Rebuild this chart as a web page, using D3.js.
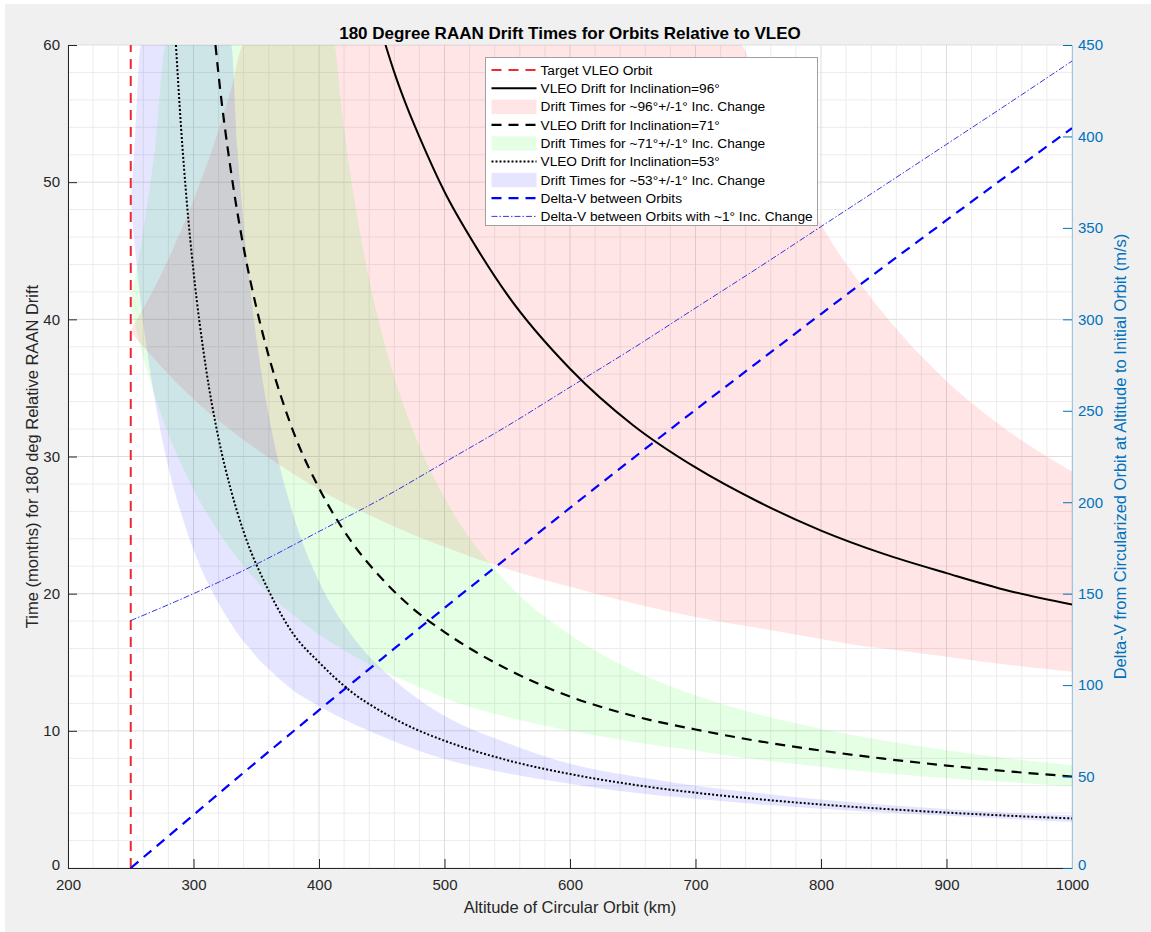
<!DOCTYPE html>
<meta charset="utf-8">
<script src="https://d3js.org/d3.v7.min.js"></script>
<style>
  body { margin: 0; background: #fff; font-family: "Liberation Sans", Arial, Helvetica, sans-serif; }
</style>
<div id="my_dataviz"></div>
<script>

// ---- values ----
// nominal drift curves: altitude (km) / months for 180 deg relative drift
var alt96 = [453, 460, 470, 480, 500, 525, 550, 600, 650, 700, 750, 800, 850, 900, 950, 1000];
var drift96 = [60, 58.0, 55.5, 53.3, 49.3, 45.3, 41.8, 36.4, 32.3, 29.2, 26.7, 24.6, 22.9, 21.5, 20.2, 19.2];

var alt71 = [317.5, 320, 330, 340, 350, 360, 370, 380, 400, 425, 450, 475, 500, 550, 600, 650, 700, 750, 800, 850, 900, 950, 1000];
var drift71 = [60, 57.8, 50.7, 45.2, 40.9, 37.3, 34.3, 31.7, 27.7, 23.9, 21.1, 18.9, 17.2, 14.5, 12.5, 11.1, 10.1, 9.25, 8.56, 7.97, 7.47, 7.04, 6.67];

var alt53 = [286, 290, 295, 300, 310, 320, 330, 340, 360, 380, 400, 425, 450, 475, 500, 550, 600, 650, 700, 750, 800, 850, 900, 950, 1000];
var drift53 = [60, 54.1, 48.2, 43.5, 36.4, 31.3, 27.5, 24.5, 20.2, 17.0, 15.0, 12.9, 11.4, 10.2, 9.28, 7.86, 6.85, 6.08, 5.49, 5.02, 4.63, 4.31, 4.04, 3.81, 3.61];

// +/-1 deg inclination bands (upper edge held at the top of the axes where it runs off)
var band96Alt = [250, 260, 270, 280, 300, 320, 330, 340, 360, 380, 400, 450, 500, 550, 600, 650, 700, 736, 750, 775, 800, 825, 850, 900, 950, 1000];
var band96Hi = [39.2, 40.8, 42.5, 44.4, 48.7, 53.8, 56.8, 60, 60, 60, 60, 60, 60, 60, 60, 60, 60, 60, 56.5, 51.3, 46.9, 43.4, 40.4, 35.5, 31.8, 28.9];
var band96Lo = [39.1, 38.0, 37.0, 36.0, 34.2, 32.6, 31.9, 31.2, 29.9, 28.7, 27.6, 25.3, 23.4, 21.8, 20.5, 19.3, 18.3, 17.7, 17.5, 17.1, 16.7, 16.3, 16.0, 15.4, 14.8, 14.3];

var band71Alt = [250, 260, 270, 278, 290, 300, 320, 340, 360, 380, 400, 412, 418, 425, 435, 450, 460, 475, 500, 550, 600, 650, 700, 750, 800, 850, 900, 950, 1000];
var band71Hi = [41.4, 46.5, 53.0, 60, 60, 60, 60, 60, 60, 60, 60, 60, 55.3, 50.6, 45.2, 39.0, 35.8, 31.9, 27.0, 20.8, 17.0, 14.4, 12.6, 11.2, 10.15, 9.29, 8.58, 7.99, 7.50];
var band71Lo = [40.9, 37.2, 34.2, 32.1, 29.5, 27.6, 24.5, 22.0, 20.0, 18.4, 17.0, 16.3, 16.0, 15.6, 15.1, 14.4, 14.0, 13.4, 12.4, 11.0, 10.0, 9.19, 8.55, 7.89, 7.39, 6.9, 6.55, 6.25, 5.95];

var band53Alt = [250, 253, 258, 270, 280, 290, 300, 320, 330, 335, 340, 345, 350, 360, 380, 400, 425, 450, 475, 500, 550, 600, 650, 700, 750, 800, 850, 900, 950, 1000];
var band53Hi = [48.8, 52.5, 60, 60, 60, 60, 60, 60, 60, 52.4, 46.9, 42.4, 38.7, 33.0, 25.6, 20.9, 17.1, 14.5, 12.6, 11.1, 9.12, 7.6, 6.7, 6.0, 5.46, 4.99, 4.61, 4.30, 4.03, 3.85];
var band53Lo = [48.5, 45.5, 41.2, 33.7, 29.2, 25.9, 23.2, 19.3, 17.8, 17.1, 16.5, 16.0, 15.4, 14.5, 12.9, 11.8, 10.6, 9.6, 8.7, 7.95, 6.9, 6.15, 5.5, 5.04, 4.65, 4.32, 4.05, 3.81, 3.58, 3.35];

// delta-v (m/s, right axis)
var dvAlt = [250, 300, 350, 400, 450, 500, 550, 600, 650, 700, 750, 800, 850, 900, 950, 1000];
var dvOrbits = [0, 29.0, 57.9, 86.3, 114.4, 142.2, 169.7, 196.9, 223.9, 250.5, 276.8, 302.9, 328.7, 354.2, 379.5, 404.5];
var dvIncChange = [135.3, 150.0, 166.1, 184.0, 202.0, 221.8, 241.7, 262.9, 284.1, 306.2, 328.2, 350.7, 373.1, 395.7, 418.3, 441.2];

var targetAlt = 250;

var xTicks = [200, 300, 400, 500, 600, 700, 800, 900, 1000];
var yTicks = [0, 10, 20, 30, 40, 50, 60];
var yRightTicks = [0, 50, 100, 150, 200, 250, 300, 350, 400, 450];

var legendLabels = [
  "Target VLEO Orbit",
  "VLEO Drift for Inclination=96°",
  "Drift Times for ~96°+/-1° Inc. Change",
  "VLEO Drift for Inclination=71°",
  "Drift Times for ~71°+/-1° Inc. Change",
  "VLEO Drift for Inclination=53°",
  "Drift Times for ~53°+/-1° Inc. Change",
  "Delta-V between Orbits",
  "Delta-V between Orbits with ~1° Inc. Change"
];

// ---- layout ----
var W = 1151, H = 932;
var margin = {top: 45, right: 79, bottom: 64, left: 68},
    width = W - margin.left - margin.right,
    height = H - margin.top - margin.bottom;

var axisColor = "#262626", rightColor = "#0072bd";
var fillAlpha = 0.1;

var svg = d3.select("#my_dataviz")
  .append("svg")
    .attr("width", W)
    .attr("height", H);

// figure background
svg.append("rect").attr("x", 5).attr("y", 4).attr("width", W - 5).attr("height", H - 4).attr("fill", "#f0f0f0");

var g = svg.append("g")
    .attr("transform", "translate(" + margin.left + "," + margin.top + ")");

g.append("rect").attr("width", width).attr("height", height).attr("fill", "#fff");

g.append("clipPath").attr("id", "plotclip")
  .append("rect").attr("width", width).attr("height", height);

var x = d3.scaleLinear().domain([200, 1000]).range([0, width]);
var y = d3.scaleLinear().domain([0, 60]).range([height, 0]);
var yR = d3.scaleLinear().domain([0, 450]).range([height, 0]);

// grid: minor then major
var grid = g.append("g");
grid.selectAll(".vminor").data(d3.range(200, 1001, 20).filter(function(d) { return d % 100 != 0; }))
  .enter().append("line")
    .attr("x1", function(d) { return x(d); }).attr("x2", function(d) { return x(d); })
    .attr("y1", 0).attr("y2", height)
    .attr("stroke", "#ececec").attr("stroke-width", 1);
grid.selectAll(".hminor").data(d3.range(0, 61, 2).filter(function(d) { return d % 10 != 0; }))
  .enter().append("line")
    .attr("y1", function(d) { return y(d); }).attr("y2", function(d) { return y(d); })
    .attr("x1", 0).attr("x2", width)
    .attr("stroke", "#ececec").attr("stroke-width", 1);
grid.selectAll(".vmajor").data(xTicks)
  .enter().append("line")
    .attr("x1", function(d) { return x(d); }).attr("x2", function(d) { return x(d); })
    .attr("y1", 0).attr("y2", height)
    .attr("stroke", "#dedede").attr("stroke-width", 1);
grid.selectAll(".hmajor").data(yTicks)
  .enter().append("line")
    .attr("y1", function(d) { return y(d); }).attr("y2", function(d) { return y(d); })
    .attr("x1", 0).attr("x2", width)
    .attr("stroke", "#dedede").attr("stroke-width", 1);

var plot = g.append("g").attr("clip-path", "url(#plotclip)");

function zip(xs, a, b) {
  return xs.map(function(v, i) { return {x: v, y0: a[i], y1: b ? b[i] : a[i]}; });
}

var area = d3.area()
  .x(function(d) { return x(d.x); })
  .y0(function(d) { return y(d.y0); })
  .y1(function(d) { return y(d.y1); })
  .curve(d3.curveMonotoneX);

var bands = [
  {alt: band96Alt, lo: band96Lo, hi: band96Hi, color: "#ff0000"},
  {alt: band71Alt, lo: band71Lo, hi: band71Hi, color: "#00ff00"},
  {alt: band53Alt, lo: band53Lo, hi: band53Hi, color: "#0000ff"}
];
bands.forEach(function(b) {
  plot.append("path")
    .datum(zip(b.alt, b.lo, b.hi))
    .attr("d", area)
    .attr("fill", b.color)
    .attr("fill-opacity", fillAlpha)
    .attr("stroke", "none");
});

var lineL = d3.line()
  .x(function(d) { return x(d.x); })
  .y(function(d) { return y(d.y0); })
  .curve(d3.curveMonotoneX);
var lineR = d3.line()
  .x(function(d) { return x(d.x); })
  .y(function(d) { return yR(d.y0); })
  .curve(d3.curveMonotoneX);

// target orbit
plot.append("line")
  .attr("x1", x(targetAlt)).attr("x2", x(targetAlt))
  .attr("y1", y(0)).attr("y2", y(60))
  .attr("stroke", "#f0282f").attr("stroke-width", 2)
  .attr("stroke-dasharray", "10,7");

// delta-v lines
plot.append("path").datum(zip(dvAlt, dvIncChange))
  .attr("d", lineR).attr("fill", "none")
  .attr("stroke", "#2020e0").attr("stroke-width", 0.9)
  .attr("stroke-dasharray", "6,2,1.5,2");
plot.append("path").datum(zip(dvAlt, dvOrbits))
  .attr("d", lineR).attr("fill", "none")
  .attr("stroke", "#0000ff").attr("stroke-width", 2.2)
  .attr("stroke-dasharray", "10,7");

// drift curves
plot.append("path").datum(zip(alt96, drift96))
  .attr("d", lineL).attr("fill", "none")
  .attr("stroke", "#000").attr("stroke-width", 2);
plot.append("path").datum(zip(alt71, drift71))
  .attr("d", lineL).attr("fill", "none")
  .attr("stroke", "#000").attr("stroke-width", 2.2)
  .attr("stroke-dasharray", "10,7");
plot.append("path").datum(zip(alt53, drift53))
  .attr("d", lineL).attr("fill", "none")
  .attr("stroke", "#000").attr("stroke-width", 2)
  .attr("stroke-dasharray", "2,2");

// axes (ticks pointing inward, like the original)
function styleAxis(sel, color) {
  sel.attr("font-family", "Liberation Sans, Arial, sans-serif").attr("font-size", 15);
  sel.selectAll("text").attr("fill", color);
  sel.selectAll("line").attr("stroke", color);
  sel.select(".domain").attr("stroke", color);
}

var xAxis = g.append("g")
  .attr("transform", "translate(0," + height + ")")
  .call(d3.axisBottom(x).tickValues(xTicks).tickSize(-9).tickSizeOuter(0).tickPadding(11).tickFormat(d3.format("d")));
styleAxis(xAxis, axisColor);

var yAxis = g.append("g")
  .call(d3.axisLeft(y).tickValues(yTicks).tickSize(-9).tickSizeOuter(0).tickPadding(8).tickFormat(d3.format("d")));
styleAxis(yAxis, axisColor);

var yAxisR = g.append("g")
  .attr("transform", "translate(" + width + ",0)")
  .call(d3.axisRight(yR).tickValues(yRightTicks).tickSize(-9).tickSizeOuter(0).tickPadding(6).tickFormat(d3.format("d")));
styleAxis(yAxisR, rightColor);
yAxisR.select(".domain").attr("stroke", "#9cc4e4");
// keep the two "0" labels clear of the x tick labels below them
yAxis.selectAll(".tick text").filter(function(d) { return d == 0; }).attr("dy", "0.1em");
yAxisR.selectAll(".tick text").filter(function(d) { return d == 0; }).attr("dy", "0.1em");

// titles
svg.append("text")
  .attr("x", margin.left + width / 2).attr("y", 39)
  .attr("text-anchor", "middle").attr("font-weight", "bold").attr("font-size", 17)
  .attr("fill", "#000")
  .text("180 Degree RAAN Drift Times for Orbits Relative to VLEO");

svg.append("text")
  .attr("x", margin.left + width / 2).attr("y", 913)
  .attr("text-anchor", "middle").attr("font-size", 16.5).attr("fill", axisColor)
  .text("Altitude of Circular Orbit (km)");

svg.append("text")
  .attr("transform", "translate(38," + (margin.top + height / 2) + ") rotate(-90)")
  .attr("text-anchor", "middle").attr("font-size", 16.5).attr("fill", axisColor)
  .text("Time (months) for 180 deg Relative RAAN Drift");

svg.append("text")
  .attr("transform", "translate(1126," + (margin.top + height / 2) + ") rotate(-90)")
  .attr("text-anchor", "middle").attr("font-size", 16.5).attr("fill", rightColor)
  .text("Delta-V from Circularized Orbit at Altitude to Initial Orbit (m/s)");

// legend
var legendItems = [
  {type: "line", color: "#f0282f", dash: "10,7", w: 2},
  {type: "line", color: "#000", dash: null, w: 2},
  {type: "patch", color: "#ff0000"},
  {type: "line", color: "#000", dash: "10,7", w: 2.2},
  {type: "patch", color: "#00ff00"},
  {type: "line", color: "#000", dash: "2,2", w: 2},
  {type: "patch", color: "#0000ff"},
  {type: "line", color: "#0000ff", dash: "10,7", w: 2.2},
  {type: "line", color: "#2020e0", dash: "6,2,1.5,2", w: 0.9}
];

var legend = svg.append("g").attr("transform", "translate(485.5,57.5)");
legend.append("rect")
  .attr("width", 332).attr("height", 168)
  .attr("fill", "#fff").attr("stroke", "#a0a0a0").attr("stroke-width", 1);

var rowH = 18.3, row0 = 12.5;
var entries = legend.selectAll(".entry").data(legendItems).enter().append("g")
  .attr("transform", function(d, i) { return "translate(0," + (row0 + i * rowH) + ")"; });

entries.filter(function(d) { return d.type == "line"; })
  .append("line")
    .attr("x1", 6).attr("x2", 51).attr("y1", 0).attr("y2", 0)
    .attr("stroke", function(d) { return d.color; })
    .attr("stroke-width", function(d) { return d.w; })
    .attr("stroke-dasharray", function(d) { return d.dash; });

entries.filter(function(d) { return d.type == "patch"; })
  .append("rect")
    .attr("x", 6).attr("y", -7).attr("width", 45).attr("height", 14.5)
    .attr("fill", function(d) { return d.color; })
    .attr("fill-opacity", fillAlpha);

entries.append("text")
  .attr("x", 55).attr("y", 0).attr("dy", "0.35em")
  .attr("font-size", 13.7).attr("fill", "#000")
  .text(function(d, i) { return legendLabels[i]; });

</script>
